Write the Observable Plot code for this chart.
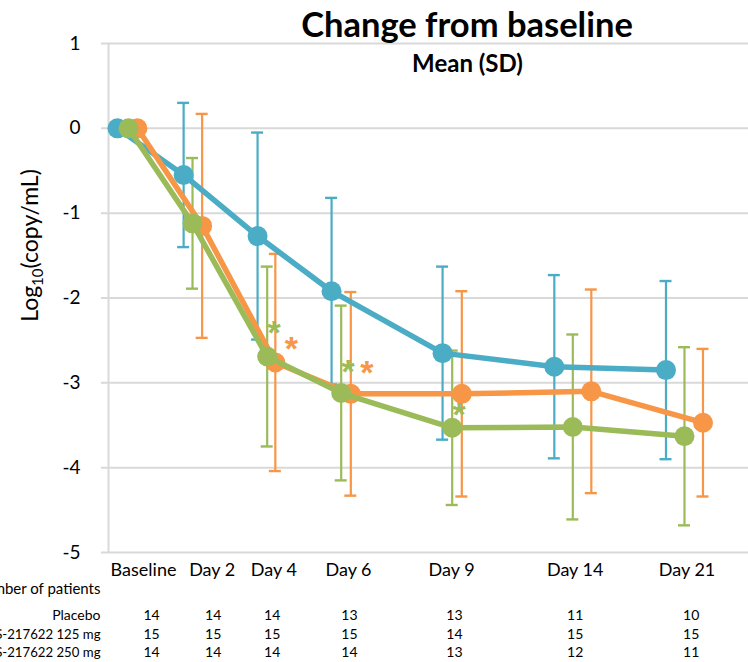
<!DOCTYPE html>
<html><head><meta charset="utf-8">
<script src="https://cdn.jsdelivr.net/npm/d3@7"></script>
<script src="https://cdn.jsdelivr.net/npm/@observablehq/plot@0.6"></script>
<style>body{margin:0;background:#fff;} #chart{width:748px;height:662px;}</style>
</head><body><div id="chart"></div>
<script>
// ---------- data ----------
const categories = ["Baseline", "Day 2", "Day 4", "Day 6", "Day 9", "Day 14", "Day 21"];
const seriesNames = ["Placebo", "S-217622 125 mg", "S-217622 250 mg"];
const seriesColors = ["#4BACC6", "#F79646", "#9BBB59"];
const placeboMean = [0, -0.55, -1.27, -1.92, -2.65, -2.81, -2.85];
const placeboSD   = [0, 0.85, 1.22, 1.10, 1.02, 1.08, 1.05];
const dose125Mean = [0, -1.15, -2.76, -3.13, -3.13, -3.10, -3.47];
const dose125SD   = [0, 1.32, 1.28, 1.20, 1.21, 1.20, 0.87];
const dose250Mean = [0, -1.12, -2.69, -3.12, -3.53, -3.52, -3.63];
const dose250SD   = [0, 0.77, 1.06, 1.03, 0.91, 1.09, 1.05];
const patientsPlacebo = [14, 14, 14, 13, 13, 11, 10];
const patients125 = [15, 15, 15, 15, 14, 15, 15];
const patients250 = [14, 14, 14, 14, 13, 12, 11];
const yTicks = [1, 0, -1, -2, -3, -4, -5];
const starCats = ["Day 4", "Day 4", "Day 6", "Day 6", "Day 9"];
const starSeries = ["S-217622 250 mg", "S-217622 125 mg", "S-217622 250 mg", "S-217622 125 mg", "S-217622 250 mg"];
const starY = [-2.35, -2.54, -2.81, -2.83, -3.32];
const titleText = "Change from baseline";
const subtitleText = "Mean (SD)";
const yLabelText = "Log10(copy/mL)";
const tableHeader = "Number of patients";

// ---------- layout ----------
const catPos = [0, 0.865, 1.874, 2.874, 4.374, 6.004, 7.513];
const seriesShift = [
  [-0.15, -0.12, -0.13, -0.13, -0.13, -0.25, -0.25],
  [0.12, 0.13, 0.11, 0.13, 0.13, 0.25, 0.25],
  [0, 0, 0, 0, 0, 0, 0]
];
const starDx = [0, 16, 7];
const labelPos = [0.203, 1.131, 1.964, 2.973, 4.365, 6.036, 7.547];
const colPos = [0.311, 1.145, 1.942, 2.986, 4.405, 6.036, 7.604];
const xDomain = [-0.2703, 8.378];
const FONT = "Lato, 'Open Sans', sans-serif";

const means = [placeboMean, dose125Mean, dose250Mean];
const sds = [placeboSD, dose125SD, dose250SD];
const counts = [patientsPlacebo, patients125, patients250];

const rows = seriesNames.flatMap((s, si) => categories.map((c, ci) => ({
  series: s, si, cat: c, x: catPos[ci] + seriesShift[si][ci], mean: means[si][ci], sd: sds[si][ci]
})));
const bars = rows.filter(d => d.sd > 0);
const stars = starCats.map((c, i) => {
  const si = seriesNames.indexOf(starSeries[i]);
  const ci = categories.indexOf(c);
  return {series: starSeries[i], si, x: catPos[ci] + seriesShift[si][ci], y: starY[i]};
});

const marks = [
  Plot.ruleY(yTicks, {stroke: "#d9d9d9", strokeWidth: 2, insetLeft: -7}),
  Plot.ruleX([xDomain[0]], {stroke: "#d9d9d9", strokeWidth: 2}),
  Plot.axisY(yTicks, {tickSize: 0, tickPadding: 28, fontSize: 19, label: null, tickFormat: d => String(d)}),
  Plot.axisX(labelPos, {tickSize: 0, tickPadding: 11, fontSize: 18, label: null, tickFormat: d => categories[labelPos.indexOf(d)]}),
  Plot.ruleX(bars, {x: "x", y1: d => d.mean - d.sd, y2: d => d.mean + d.sd, stroke: "series", strokeWidth: 2.2}),
  Plot.ruleY(bars, {y: d => d.mean + d.sd, x1: "x", x2: "x", insetLeft: -6, insetRight: -6, stroke: "series", strokeWidth: 2.4}),
  Plot.ruleY(bars, {y: d => d.mean - d.sd, x1: "x", x2: "x", insetLeft: -6, insetRight: -6, stroke: "series", strokeWidth: 2.4})
];
seriesNames.forEach((s, si) => {
  const r = rows.filter(d => d.si === si);
  marks.push(Plot.line(r, {x: "x", y: "mean", stroke: "series", strokeWidth: 5.5, strokeLinejoin: "round"}));
  marks.push(Plot.dot(r, {x: "x", y: "mean", r: 10, fill: "series", stroke: "none"}));
});
seriesNames.forEach((s, si) => {
  const st = stars.filter(d => d.si === si);
  if (st.length) marks.push(Plot.text(st, {x: "x", y: "y", text: () => "*", fill: "series", fontSize: 34, fontWeight: "bold",
    fontFamily: "'Liberation Sans', Arial, sans-serif", dx: starDx[si], dy: 5, textAnchor: "middle", lineAnchor: "middle"}));
});
// titles
marks.push(Plot.text([titleText], {frameAnchor: "top", dx: 38.5, dy: -6.3, lineAnchor: "bottom", fontSize: 34.5, fontWeight: "bold", fill: "black"}));
marks.push(Plot.text([subtitleText], {frameAnchor: "top", dx: 39, dy: 28, lineAnchor: "bottom", fontSize: 24, fontWeight: "bold", fill: "black"}));
marks.push(Plot.text([yLabelText], {frameAnchor: "top-left", dx: -78, dy: 202, rotate: -90, fontSize: 23, textAnchor: "middle", lineAnchor: "middle", fill: "black"}));
// patients table
marks.push(Plot.text([tableHeader], {frameAnchor: "bottom-left", dx: -8, dy: 41, textAnchor: "end", lineAnchor: "bottom", fontSize: 15, fill: "black"}));
const rowDy = [67.5, 86, 104.5];
seriesNames.forEach((s, si) => {
  marks.push(Plot.text([s], {frameAnchor: "bottom-left", dx: -8, dy: rowDy[si], textAnchor: "end", lineAnchor: "bottom", fontSize: si === 0 ? 14 : 13.2, fill: "black"}));
  marks.push(Plot.text(counts[si].map((n, ci) => ({n, x: colPos[ci]})), {x: "x", frameAnchor: "bottom", dy: rowDy[si], text: d => String(d.n), lineAnchor: "bottom", fontSize: 14, fill: "black"}));
});

const chart = Plot.plot({
  width: 748, height: 662,
  marginLeft: 108, marginRight: 0, marginTop: 43, marginBottom: 110,
  x: {domain: xDomain, axis: null},
  y: {domain: [-5, 1], axis: null},
  color: {domain: seriesNames, range: seriesColors},
  style: {fontFamily: FONT, background: "white", overflow: "visible", color: "black"},
  marks
});
document.getElementById("chart").appendChild(chart);

// subscript in the y label
const svg = d3.select(chart);
svg.selectAll("text").each(function() {
  const t = d3.select(this);
  if (t.text() === yLabelText) {
    t.text(null);
    t.append("tspan").text("Log");
    t.append("tspan").text("10").attr("font-size", 15).attr("dy", 5);
    t.append("tspan").text("(copy/mL)").attr("dy", -5);
  }
});
</script>
</body></html>
